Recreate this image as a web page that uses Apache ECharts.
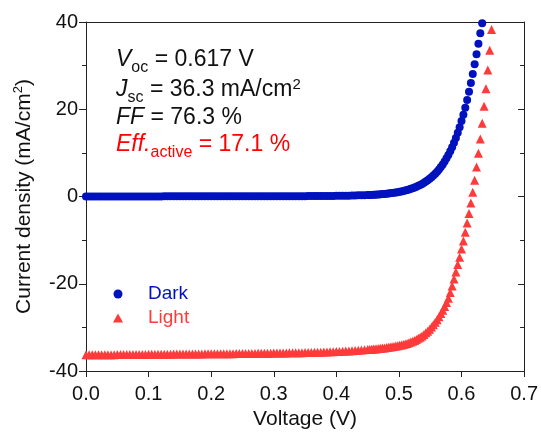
<!DOCTYPE html>
<html><head><meta charset="utf-8">
<script src="https://cdn.jsdelivr.net/npm/echarts@6/dist/echarts.min.js"></script>
<style>html,body{margin:0;padding:0;background:#fff}#c{width:541px;height:435px}</style>
</head><body><div id="c"></div>
<script>
// Voltage (V) sampling points shared by both curves
const voltage = [
0,0.005,0.01,0.015,0.02,0.025,0.03,0.035,0.04,0.045,
0.05,0.055,0.06,0.065,0.07,0.075,0.08,0.085,0.09,0.095,
0.1,0.105,0.11,0.115,0.12,0.125,0.13,0.135,0.14,0.145,
0.15,0.155,0.16,0.165,0.17,0.175,0.18,0.185,0.19,0.195,
0.2,0.205,0.21,0.215,0.22,0.225,0.23,0.235,0.24,0.245,
0.25,0.255,0.26,0.265,0.27,0.275,0.28,0.285,0.29,0.295,
0.3,0.305,0.31,0.315,0.32,0.325,0.33,0.335,0.34,0.345,
0.35,0.355,0.36,0.365,0.37,0.375,0.38,0.385,0.39,0.395,
0.4,0.405,0.41,0.415,0.42,0.425,0.43,0.435,0.44,0.445,
0.45,
0.453,0.456,0.459,0.462,0.465,0.468,0.471,0.474,0.477,0.48,
0.483,0.486,0.489,0.492,0.495,0.498,0.501,0.504,0.507,0.51,
0.513,0.516,0.519,0.522,0.525,0.528,0.531,0.534,0.537,0.54,
0.543,0.546,0.549,0.552,0.555,0.558,0.561,0.564,0.567,0.57,
0.573,0.576,0.579,0.582,0.585,0.588,0.591,0.594,0.597,0.6,
0.603,0.606,0.609,0.612,0.615,0.618,0.621,0.624,0.627,0.63,
0.633,0.636,0.639,0.642,0.645,0.648
];
// Dark current density (mA/cm2)
const darkCurrent = [
0.00,0.00,0.00,0.00,0.00,0.01,0.01,0.01,0.01,0.01,
0.01,0.01,0.01,0.01,0.01,0.02,0.02,0.02,0.02,0.02,
0.02,0.02,0.02,0.02,0.02,0.03,0.03,0.03,0.03,0.03,
0.03,0.03,0.03,0.03,0.03,0.04,0.04,0.04,0.04,0.04,
0.04,0.04,0.04,0.04,0.04,0.05,0.05,0.05,0.05,0.05,
0.05,0.05,0.05,0.05,0.05,0.06,0.06,0.06,0.06,0.06,
0.06,0.06,0.07,0.07,0.07,0.07,0.07,0.08,0.08,0.08,
0.08,0.09,0.09,0.10,0.10,0.11,0.11,0.12,0.13,0.14,
0.15,0.16,0.17,0.19,0.20,0.22,0.24,0.26,0.28,0.30,
0.32,
0.34,0.37,0.39,0.42,0.45,0.48,0.51,0.55,0.59,0.63,
0.68,0.74,0.79,0.86,0.93,1.00,1.08,1.17,1.27,1.37,
1.49,1.62,1.75,1.91,2.07,2.25,2.44,2.66,2.89,3.14,
3.42,3.72,4.05,4.41,4.80,5.23,5.69,6.20,6.75,7.36,
8.02,8.74,9.52,10.38,11.31,12.33,13.43,14.62,15.90,17.28,
18.75,20.35,22.10,24.00,26.00,28.10,30.30,32.60,35.00,37.40,
39.70
];
// Light current density (mA/cm2)
const lightCurrent = [
-36.30,-36.29,-36.29,-36.28,-36.28,-36.27,-36.26,-36.26,-36.25,-36.25,
-36.24,-36.23,-36.23,-36.22,-36.22,-36.21,-36.20,-36.20,-36.19,-36.19,
-36.18,-36.17,-36.17,-36.16,-36.16,-36.15,-36.14,-36.14,-36.13,-36.13,
-36.12,-36.11,-36.11,-36.10,-36.10,-36.09,-36.08,-36.08,-36.07,-36.07,
-36.06,-36.05,-36.05,-36.04,-36.04,-36.03,-36.02,-36.02,-36.01,-36.01,
-36.00,-35.99,-35.98,-35.97,-35.96,-35.95,-35.94,-35.93,-35.92,-35.91,
-35.90,-35.89,-35.88,-35.86,-35.85,-35.84,-35.83,-35.82,-35.81,-35.80,
-35.78,-35.76,-35.74,-35.72,-35.70,-35.68,-35.66,-35.64,-35.61,-35.58,
-35.55,-35.51,-35.47,-35.43,-35.39,-35.34,-35.30,-35.25,-35.20,-35.15,
-35.10,
-35.06,-35.02,-34.98,-34.94,-34.90,-34.85,-34.80,-34.75,-34.70,-34.64,
-34.58,-34.51,-34.44,-34.37,-34.29,-34.21,-34.12,-34.02,-33.92,-33.80,
-33.67,-33.53,-33.37,-33.19,-32.99,-32.77,-32.52,-32.25,-31.95,-31.62,
-31.26,-30.86,-30.42,-29.94,-29.42,-28.85,-28.23,-27.56,-26.84,-26.06,
-25.22,-24.32,-23.35,-22.00,-20.50,-18.90,-17.30,-15.60,-13.90,-12.05,
-10.20,-8.20,-6.10,-3.90,-1.50,1.00,3.70,6.75,9.90,13.20,
16.80,20.70,24.70,29.00,33.50,38.30
];
const seriesNames = ['Dark', 'Light'];
const xRange = [0, 0.7, 0.1];
const yRange = [-40, 40, 20];

const FONT = '"Liberation Sans", Arial, Helvetica, sans-serif';
const BLUE = '#0012BE';
const RED = '#FF3A3A';
const AXIS = '#222';

const darkData = darkCurrent.map((j, i) => [voltage[i], j]);
const lightData = lightCurrent.map((j, i) => [voltage[i], j]);

const chart = echarts.init(document.getElementById('c'), null, {renderer: 'canvas'});

const mainTok = {fontFamily: FONT, fontSize: 23, lineHeight: 32};
function rich(color) {
  return {
    i: Object.assign({fontStyle: 'italic', fill: color}, mainTok),
    n: Object.assign({fill: color}, mainTok),
    s: {fontFamily: FONT, fontSize: 16, lineHeight: 16, verticalAlign: 'bottom', fill: color},
    p: {fontFamily: FONT, fontSize: 15, lineHeight: 15, verticalAlign: 'top', padding: [3, 0, 0, 0], fill: color}
  };
}
function annot(text, y, color) {
  return {type: 'text', left: 116, top: y, silent: true,
    style: {text: text, rich: rich(color), fontFamily: FONT, fontSize: 23, fill: color}};
}

const option = {
  animation: false,
  grid: {left: 86, right: 16, top: 22, bottom: 59},
  xAxis: [{
    type: 'value', min: xRange[0], max: xRange[1], interval: xRange[2], position: 'bottom',
    axisLine: {show: true, onZero: false, lineStyle: {color: AXIS, width: 1}},
    axisTick: {show: true, inside: false, length: 6, lineStyle: {color: AXIS}},
    axisLabel: {color: '#111', fontSize: 20, fontFamily: FONT, margin: 13, formatter: v => v.toFixed(1)},
    splitLine: {show: false},
    name: 'Voltage (V)', nameLocation: 'middle', nameGap: 38,
    nameTextStyle: {fontSize: 21, color: '#111', fontFamily: FONT}
  }, {
    type: 'value', min: xRange[0], max: xRange[1], interval: xRange[2], position: 'top',
    axisLine: {show: true, onZero: false, lineStyle: {color: AXIS, width: 1}},
    axisTick: {show: false}, axisLabel: {show: false}, splitLine: {show: false}
  }],
  yAxis: [{
    type: 'value', min: yRange[0], max: yRange[1], interval: yRange[2], position: 'left',
    axisLine: {show: true, onZero: false, lineStyle: {color: AXIS, width: 1}},
    axisTick: {show: true, inside: false, length: 7, lineStyle: {color: AXIS}},
    minorTick: {show: true, splitNumber: 2, length: 4, lineStyle: {color: AXIS}},
    axisLabel: {color: '#111', fontSize: 20, fontFamily: FONT, margin: 8},
    splitLine: {show: false}, minorSplitLine: {show: false},
    name: 'Current density (mA/cm{sup|2})', nameLocation: 'middle', nameGap: 41,
    nameTextStyle: {fontSize: 21, color: '#111', fontFamily: FONT, lineHeight: 28,
      rich: {sup: {fontSize: 13, lineHeight: 13, verticalAlign: 'top', padding: [2, 0, 0, 0], color: '#111', fontFamily: FONT}}}
  }, {
    type: 'value', min: yRange[0], max: yRange[1], interval: yRange[2], position: 'right',
    axisLine: {show: true, onZero: false, lineStyle: {color: AXIS, width: 1}},
    axisTick: {show: true, inside: true, length: 6, lineStyle: {color: AXIS}},
    minorTick: {show: true, splitNumber: 2, length: 4, lineStyle: {color: AXIS}},
    axisLabel: {show: false}, splitLine: {show: false}, minorSplitLine: {show: false}
  }],
  legend: {
    orient: 'vertical', left: 113, top: 284, padding: 0, itemWidth: 50, itemHeight: 9, itemGap: 4,
    symbolKeepAspect: true,
    textStyle: {fontSize: 19, fontFamily: FONT, lineHeight: 20},
    selectedMode: false,
    data: [
      {name: seriesNames[0], icon: 'circle', textStyle: {color: BLUE}},
      {name: seriesNames[1], icon: 'path://M0,0L1,1.8L-1,1.8Z', textStyle: {color: RED}}
    ]
  },
  series: [{
    name: seriesNames[0], type: 'scatter', xAxisIndex: 0, yAxisIndex: 0,
    symbol: 'circle', symbolSize: 8, itemStyle: {color: BLUE, opacity: 1},
    data: darkData, clip: true, silent: true
  }, {
    name: seriesNames[1], type: 'scatter', xAxisIndex: 0, yAxisIndex: 0,
    symbol: 'triangle', symbolSize: 9, itemStyle: {color: RED, opacity: 1},
    data: lightData, clip: true, silent: true
  }],
  graphic: [
    annot('{i|V}{s|oc}{n| = 0.617 V}', 48, '#111'),
    annot('{i|J}{s|sc}{n| = 36.3 mA/cm}{p|2}', 74, '#111'),
    annot('{i|FF}{n| = 76.3 %}', 106.5, '#111'),
    annot('{i|Eff.}{s|active}{n| = 17.1 %}', 133, '#FF0000')
  ]
};
chart.setOption(option);
</script></body></html>
